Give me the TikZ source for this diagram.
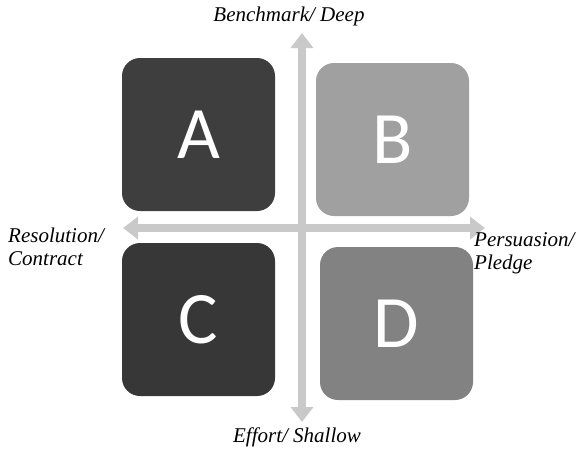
\documentclass[tikz,border=0pt]{standalone}
\usepackage{fontspec}
\newfontfamily\labelfont[ItalicFont={Liberation Serif Italic}]{Liberation Serif}
\newfontfamily\letterfont{Carlito}
\usetikzlibrary{arrows.meta}
\definecolor{boxA}{HTML}{3E3E3E}
\definecolor{boxB}{HTML}{A0A0A0}
\definecolor{boxC}{HTML}{373737}
\definecolor{boxD}{HTML}{828282}
\definecolor{axisgray}{HTML}{C9C9C9}
\tikzset{
  quad/.style={rounded corners=18pt, minimum width=153pt, minimum height=153pt,
    inner sep=0pt, text=white, font=\letterfont\fontsize{74}{74}\selectfont},
  axis/.style={draw=axisgray, line width=8pt,
    {Triangle[width=22pt,length=15pt]}-{Triangle[width=22pt,length=15pt]}},
  axislabel/.style={font=\labelfont\itshape\fontsize{21}{23}\selectfont, inner sep=0pt}
}
\begin{document}
\begin{tikzpicture}[x=1pt,y=-1pt]
\useasboundingbox (0,0) rectangle (576,451);
% quadrant boxes
\node[quad, fill=boxA] (A) at (198.5,134.5) {A};
\node[quad, fill=boxB] (B) at (392.5,139.5) {B};
\node[quad, fill=boxC] (C) at (198.5,319.5) {C};
\node[quad, fill=boxD] (D) at (396.5,323.5) {D};
% axes
\coordinate (top) at (302,33);
\coordinate (bottom) at (302,422);
\coordinate (left) at (123,228);
\coordinate (right) at (485,228);
\draw[axis] (bottom) -- (top);
\draw[axis] (left) -- (right);
% axis labels
\node[axislabel] (lt) at (289,16.5) {Benchmark/ Deep};
\node[axislabel] (lb) at (297,437.5) {Effort/ Shallow};
\node[axislabel, align=left, anchor=west] (ll) at (8,247) {Resolution/\\Contract};
\node[axislabel, align=left, anchor=west] (lr) at (474,253.5) {Persuasion/\\Pledge};
\end{tikzpicture}
\end{document}
